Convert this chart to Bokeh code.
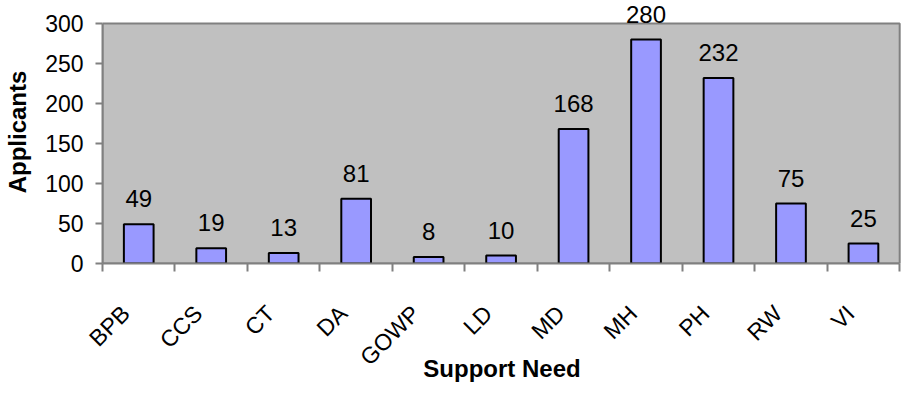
import numpy as np
from bokeh.plotting import figure
from bokeh.models import (ColumnDataSource, LabelSet, Range1d, FixedTicker,
                          CustomJSTickFormatter)
from bokeh.core.properties import value
from bokeh.embed import file_html
from bokeh.resources import INLINE

categories = ["BPB", "CCS", "CT", "DA", "GOWP", "LD", "MD", "MH", "PH", "RW", "VI"]
applicants = [49, 19, 13, 81, 8, 10, 168, 280, 232, 75, 25]
y_ticks = [0, 50, 100, 150, 200, 250, 300]
y_max = 300

FONT = "Liberation Sans"
n = len(categories)
xpos = np.arange(n) + 0.5
src = ColumnDataSource(dict(x=xpos, y=applicants, lbl=[str(v) for v in applicants]))

# frame extends above the plot area so that value labels are not clipped
head = 23 / 0.8  # 23 px of headroom at 0.8 px per unit
p = figure(width=901, height=389, output_backend="svg", toolbar_location=None,
           x_range=Range1d(0, n + 0.025), y_range=Range1d(0, y_max + head),
           min_border_left=102, min_border_right=0, min_border_top=0, min_border_bottom=126)

p.border_fill_color = "white"
p.background_fill_color = "white"
p.outline_line_color = None
p.grid.visible = False

# plot area
p.quad(left=0, right=n, bottom=0, top=y_max, fill_color="#C0C0C0",
       line_color="#808080", line_width=2)

p.vbar(x="x", top="y", width=0.41, bottom=0, source=src,
       fill_color="#9999FF", line_color="black", line_width=2)

# y axis
p.yaxis.ticker = FixedTicker(ticks=y_ticks)
p.yaxis.bounds = (0, y_max)
p.yaxis.minor_tick_line_color = None
p.yaxis.major_tick_out = 7
p.yaxis.major_tick_in = 0
p.yaxis.major_label_standoff = 12
p.yaxis.major_label_text_font = FONT
p.yaxis.major_label_text_font_size = "23px"
p.yaxis.major_label_text_color = "black"
p.yaxis.axis_line_color = "#808080"
p.yaxis.axis_line_width = 2
p.yaxis.major_tick_line_color = "#808080"
p.yaxis.major_tick_line_width = 2
p.yaxis.axis_label = "Applicants"
p.yaxis.axis_label_text_font = FONT
p.yaxis.axis_label_text_font_size = "24px"
p.yaxis.axis_label_text_font_style = "bold"
p.yaxis.axis_label_text_color = "black"
p.yaxis.axis_label_standoff = 11

# x axis: minor ticks at category boundaries, labels near category centres
p.xaxis.ticker = FixedTicker(ticks=list(xpos - 0.18), minor_ticks=list(range(n + 1)))
p.xaxis.formatter = CustomJSTickFormatter(args=dict(cats=categories),
                                          code="return cats[Math.floor(tick)];")
p.xaxis.bounds = (0, n)
p.xaxis.major_tick_out = 0
p.xaxis.major_tick_in = 0
p.xaxis.major_tick_line_color = None
p.xaxis.minor_tick_out = 8
p.xaxis.minor_tick_in = 0
p.xaxis.minor_tick_line_color = "#808080"
p.xaxis.minor_tick_line_width = 2
p.xaxis.axis_line_color = "#808080"
p.xaxis.axis_line_width = 2
p.xaxis.major_label_orientation = np.pi / 4
p.xaxis.major_label_standoff = 38
p.xaxis.major_label_text_font = FONT
p.xaxis.major_label_text_font_size = "23px"
p.xaxis.major_label_text_color = "black"
p.xaxis.axis_label = "Support Need"
p.xaxis.axis_label_text_font = FONT
p.xaxis.axis_label_text_font_size = "24px"
p.xaxis.axis_label_text_font_style = "bold"
p.xaxis.axis_label_text_color = "black"
p.xaxis.axis_label_standoff = -27

val_labels = LabelSet(x="x", y="y", text="lbl", source=src,
                      text_align="center", text_baseline="alphabetic",
                      y_offset=17, text_font=value(FONT), text_font_size=value("24px"),
                      text_color="black")
p.add_layout(val_labels)

open("out.html", "w").write(file_html(p, INLINE))
